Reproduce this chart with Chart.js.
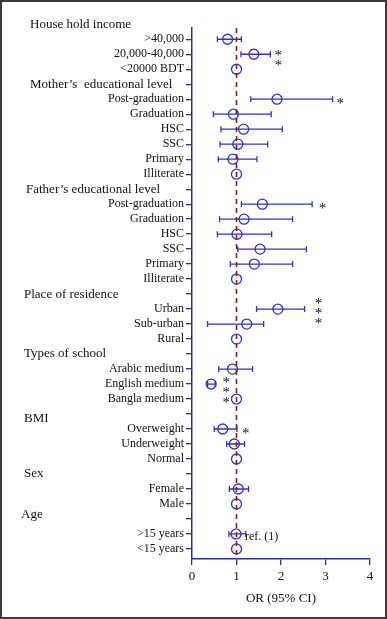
<!DOCTYPE html>
<html>
<head>
<meta charset="utf-8">
<script src="https://cdn.jsdelivr.net/npm/chart.js@4.4.0/dist/chart.umd.min.js"></script>
<style>
  html, body { margin: 0; padding: 0; background: #fff; }
  #wrap { width: 387px; height: 619px; box-sizing: border-box; border: 2px solid #3a3a3a; }
  canvas { display: block; }
</style>
</head>
<body>
<div id="wrap"><canvas id="grafica" width="383" height="615"></canvas></div>
<script>
// filas de arriba a abajo ('' = fila de cabecera de grupo)
const labels = [
  '>40,000', '20,000-40,000', '<20000 BDT',
  '', 'Post-graduation', 'Graduation', 'HSC', 'SSC', 'Primary', 'Illiterate',
  '', 'Post-graduation', 'Graduation', 'HSC', 'SSC', 'Primary', 'Illiterate',
  '', 'Urban', 'Sub-urban', 'Rural',
  '', 'Arabic medium', 'English medium', 'Bangla medium',
  '', 'Overweight', 'Underweight', 'Normal',
  '', 'Female', 'Male',
  '', '>15 years', '<15 years'
];
const orValues = [
  0.80, 1.39, 1,
  null, 1.91, 0.93, 1.16, 1.03, 0.92, 1,
  null, 1.58, 1.17, 1.01, 1.53, 1.40, 1,
  null, 1.93, 1.23, 1,
  null, 0.91, 0.43, 1,
  null, 0.69, 0.95, 1,
  null, 1.04, 1,
  null, 0.99, 1
];
const ciLow = [
  0.57, 1.10, null,
  null, 1.32, 0.48, 0.65, 0.63, 0.59, null,
  null, 1.11, 0.62, 0.57, 1.03, 0.86, null,
  null, 1.45, 0.35, null,
  null, 0.60, 0.35, null,
  null, 0.50, 0.78, null,
  null, 0.84, null,
  null, 0.83, null
];
const ciHigh = [
  1.11, 1.76, null,
  null, 3.16, 1.78, 2.03, 1.70, 1.46, null,
  null, 2.70, 2.26, 1.79, 2.57, 2.26, null,
  null, 2.53, 1.61, null,
  null, 1.36, 0.52, null,
  null, 1.01, 1.18, null,
  null, 1.27, null,
  null, 1.21, null
];
const groups = ['House hold income', 'Mother\u2019s  educational level', 'Father\u2019s educational level',
  'Place of residence', 'Types of school', 'BMI', 'Sex', 'Age'];
const groupRows = [-0.95, 3, 10, 17, 21, 25.3, 29, 31.7];
// asteriscos de significación: fila, posición en OR, cantidad
const sigRows = [1.1, 4, 11, 18, 23.25, 26];
const sigX = [1.94, 3.33, 2.93, 2.84, 0.77, 1.21];
const sigCount = [2, 1, 1, 3, 3, 1];
const xTicks = [0, 1, 2, 3, 4];

const azul = '#2f2fd8';
const ejes = '#2e2e9c';
const serif = "'Liberation Serif', 'Times New Roman', serif";

const puntos = orValues.map((v, i) => v === null ? null : { x: v, y: i }).filter(p => p);

const extras = {
  id: 'extras',
  beforeDatasetsDraw(chart) {
    const { ctx, scales: { x, y } } = chart;
    ctx.save();
    ctx.strokeStyle = azul;
    ctx.lineWidth = 1.3;
    orValues.forEach((v, i) => {
      if (ciLow[i] === null) return;
      const py = y.getPixelForValue(i);
      const x1 = x.getPixelForValue(ciLow[i]);
      const x2 = x.getPixelForValue(ciHigh[i]);
      ctx.beginPath();
      ctx.moveTo(x1, py); ctx.lineTo(x2, py);
      ctx.moveTo(x1, py - 3); ctx.lineTo(x1, py + 3);
      ctx.moveTo(x2, py - 3); ctx.lineTo(x2, py + 3);
      ctx.stroke();
    });
    ctx.restore();
  },
  afterDatasetsDraw(chart) {
    const { ctx, scales: { x, y } } = chart;
    ctx.save();
    ctx.fillStyle = '#111';
    ctx.textBaseline = 'middle';
    ctx.font = '13px ' + serif;
    groups.forEach((g, i) => {
      const px = i === 0 || i === 1 ? 28 : (i === 2 ? 24 : (i === 7 ? 19 : 22));
      ctx.fillText(g, px, y.getPixelForValue(groupRows[i]));
    });
    ctx.font = '15px ' + serif;
    ctx.textAlign = 'center';
    sigRows.forEach((r, i) => {
      const cy = y.getPixelForValue(r);
      const n = sigCount[i];
      for (let k = 0; k < n; k++) {
        ctx.fillText('*', x.getPixelForValue(sigX[i]), cy + (k - (n - 1) / 2) * 10 + 5);
      }
    });
    ctx.font = '12px ' + serif;
    ctx.textAlign = 'left';
    ctx.fillText('ref. (1)', x.getPixelForValue(1.19), y.getPixelForValue(33) + 3);
    ctx.restore();
  }
};

new Chart(document.getElementById('grafica'), {
  type: 'scatter',
  data: {
    datasets: [
      {
        type: 'line',
        data: [{ x: 1, y: -0.75 }, { x: 1, y: 34.67 }],
        borderColor: '#8b1a1a',
        borderWidth: 1.6,
        borderDash: [5, 4],
        pointRadius: 0
      },
      {
        data: puntos,
        pointStyle: 'circle',
        pointRadius: 5,
        pointBorderWidth: 1.3,
        borderColor: azul,
        backgroundColor: 'rgba(0,0,0,0)'
      }
    ]
  },
  options: {
    responsive: false,
    animation: false,
    layout: { padding: { top: 26, right: 15, left: 0, bottom: 0 } },
    plugins: { legend: { display: false }, tooltip: { enabled: false } },
    scales: {
      x: {
        min: 0, max: 4,
        afterBuildTicks: s => { s.ticks = xTicks.map(v => ({ value: v })); },
        afterFit: s => { s.height = 58; },
        grid: { drawOnChartArea: false, drawTicks: true, tickLength: 6, color: ejes, lineWidth: 1.3 },
        border: { color: ejes, width: 1.5 },
        ticks: { color: '#111', font: { family: serif, size: 13 }, padding: 4 },
        title: { display: true, text: 'OR (95% CI)', color: '#111', font: { family: serif, size: 13 }, padding: { top: 0, bottom: 11 } }
      },
      y: {
        reverse: true,
        min: -0.75, max: 34.67,
        afterBuildTicks: s => { s.ticks = labels.map((l, i) => ({ value: i })); },
        afterFit: s => { s.width = 190; },
        grid: { drawOnChartArea: false, drawTicks: true, tickLength: 6, color: ejes, lineWidth: 1.3 },
        border: { color: ejes, width: 1.5 },
        ticks: {
          autoSkip: false,
          color: '#111',
          font: { family: serif, size: 12 },
          padding: 2,
          callback: (v) => labels[v] ?? ''
        }
      }
    }
  },
  plugins: [extras]
});
</script>
</body>
</html>
